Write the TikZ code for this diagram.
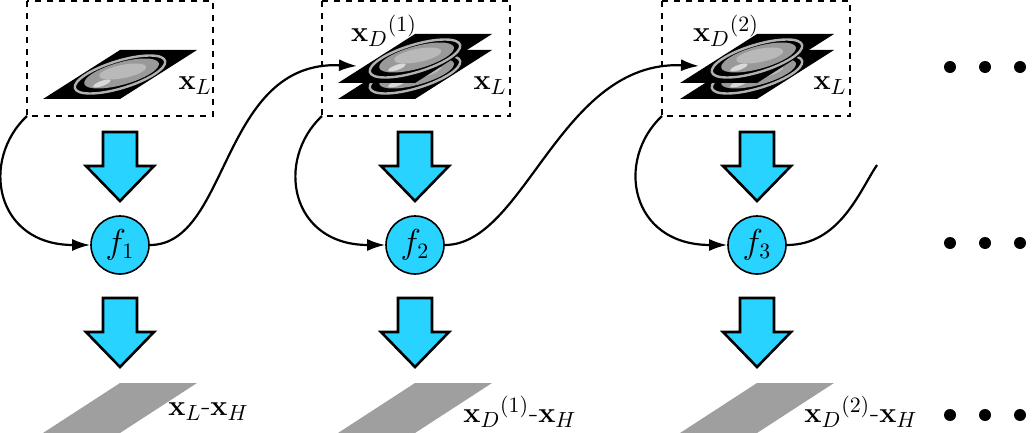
\documentclass[tikz,border=0pt]{standalone}
\usepackage{bm}
\usetikzlibrary{arrows.meta}
\definecolor{fcyan}{RGB}{41,211,255}
\newcommand{\bigdown}[2]{% top centre of a block arrow
  \filldraw[blockarrow] (#1-17,#2)--(#1+17,#2)--(#1+17,#2+34)--(#1+34,#2+34)
    --(#1,#2+69)--(#1-34,#2+34)--(#1-17,#2+34)--cycle;}
\newcommand{\ctslice}[2]{% bottom centre of a CT slice
  \fill[black] (#1-77,#2)--(#1,#2)--(#1+77,#2-49)--(#1,#2-49)--cycle;
  \begin{scope}[shift={(#1,#2-24.5)},xslant=1.571]
    \draw[gray!60,line width=1.2pt] (0,0) ellipse[x radius=34,y radius=19];
    \fill[gray!80] (0,-1) ellipse[x radius=29,y radius=15];
    \fill[gray!55] (-2,-3) ellipse[x radius=20,y radius=8];
    \fill[white!85!black] (-4,9) ellipse[x radius=6,y radius=4];
  \end{scope}}
\newcommand{\resslice}[2]{%
  \fill[gray!75] (#1-77,#2)--(#1,#2)--(#1+77,#2-50)--(#1,#2-50)--cycle;}
\begin{document}
\begin{tikzpicture}[x=0.5pt,y=-0.5pt,>={Latex[length=9pt,width=6pt]},
  fnode/.style={circle,draw,thick,fill=fcyan,minimum size=29pt,inner sep=0pt,font=\fontsize{16}{18}\selectfont},
  inbox/.style={draw,dashed,thick},
  blockarrow/.style={fill=fcyan,draw=black,line width=1.3pt},
  lbl/.style={font=\fontsize{15}{17}\selectfont,inner sep=0pt},
  flow/.style={->,line width=1.1pt},
  dot/.style={circle,fill=black,inner sep=0pt,minimum size=6pt}]
\useasboundingbox (0,0) rectangle (1032,433);
% input boxes
\draw[inbox] (27,1) rectangle (213,116);
\draw[inbox] (322,1) rectangle (510,116);
\draw[inbox] (662,1) rectangle (850,116);
\coordinate (b1) at (27,116);
\coordinate (b2) at (322,116);
\coordinate (b3) at (662,116);
% slices
\ctslice{120}{99}
\ctslice{415}{99} \ctslice{415}{83}
\ctslice{757}{99} \ctslice{757}{83}
\coordinate (in2) at (357,66);
\coordinate (in3) at (699,66);
\coordinate (out3) at (877,165);
% labels in boxes
\node[lbl] (xl1) at (195,86) {$\mathbf{x}_L$};
\node[lbl] (xl2) at (490,86) {$\mathbf{x}_L$};
\node[lbl] (xl3) at (830,86) {$\mathbf{x}_L$};
\node[lbl] (xd1) at (384,31) {$\mathbf{x}_D{}^{(1)}$};
\node[lbl] (xd2) at (726,31) {$\mathbf{x}_D{}^{(2)}$};
% block arrows
\foreach \c in {120,415,757}{\bigdown{\c}{132}\bigdown{\c}{298}}
% functions
\node[fnode] (f1) at (120,245) {$f_1$};
\node[fnode] (f2) at (415,245) {$f_2$};
\node[fnode] (f3) at (757,245) {$f_3$};
% connections
\draw[flow] (b1) .. controls (-20,160) and (-5,245) .. (f1.west);
\draw[flow] (b2) .. controls (275,160) and (290,245) .. (f2.west);
\draw[flow] (b3) .. controls (615,160) and (630,245) .. (f3.west);
\draw[flow] (f1.east) .. controls (230,245) and (220,60) .. (in2);
\draw[flow] (f2.east) .. controls (525,245) and (560,60) .. (in3);
\draw[line width=1.1pt] (f3.east) .. controls (840,245) and (860,190) .. (out3);
% residual outputs
\resslice{120}{433} \resslice{415}{433} \resslice{757}{433}
\node[lbl,anchor=west] (r1) at (168,412) {$\mathbf{x}_L$-$\mathbf{x}_H$};
\node[lbl,anchor=west] (r2) at (463,412) {$\mathbf{x}_D{}^{(1)}$-$\mathbf{x}_H$};
\node[lbl,anchor=west] (r3) at (804,412) {$\mathbf{x}_D{}^{(2)}$-$\mathbf{x}_H$};
% continuation dots
\foreach \y in {67,243,415}\foreach \x in {950,985,1020}\node[dot] at (\x,\y) {};
\end{tikzpicture}
\end{document}
